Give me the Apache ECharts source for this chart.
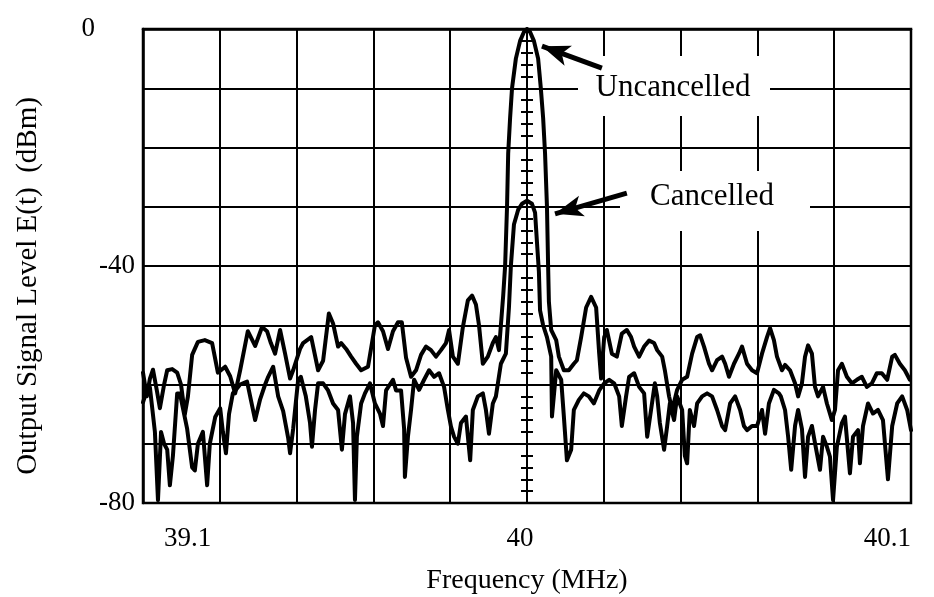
<!DOCTYPE html>
<html>
<head>
<meta charset="utf-8">
<script src="https://cdn.jsdelivr.net/npm/echarts@6/dist/echarts.min.js"></script>
<style>
  html, body { margin: 0; padding: 0; background: #fff; }
  #chart { width: 934px; height: 597px; }
</style>
</head>
<body>
<div id="chart"></div>
<script>
var chart = echarts.init(document.getElementById("chart"));

// x tick labels as printed on the original (one per grid division)
var xTickText = ['39.1', '', '', '', '', '40', '', '', '', '', '40.1'];

// upper trace (uncancelled), frequency in MHz, level in dBm
var freqA = [39.9000, 39.9010, 39.9018, 39.9026, 39.9036, 39.9044, 39.9055, 39.9063, 39.9076, 39.9089,
    39.9099, 39.9109, 39.9117, 39.9128, 39.9143, 39.9161, 39.9180, 39.9195, 39.9214, 39.9227,
    39.9240, 39.9253, 39.9273, 39.9292, 39.9310, 39.9323, 39.9333, 39.9344, 39.9357, 39.9370,
    39.9383, 39.9391, 39.9409, 39.9417, 39.9438, 39.9456, 39.9469, 39.9484, 39.9495, 39.9508,
    39.9516, 39.9529, 39.9542, 39.9555, 39.9568, 39.9586, 39.9604, 39.9612, 39.9625, 39.9638,
    39.9651, 39.9664, 39.9674, 39.9685, 39.9698, 39.9711, 39.9724, 39.9737, 39.9750, 39.9763,
    39.9776, 39.9789, 39.9797, 39.9807, 39.9820, 39.9833, 39.9846, 39.9857, 39.9867, 39.9875,
    39.9885, 39.9898, 39.9911, 39.9919, 39.9927, 39.9938, 39.9943, 39.9948, 39.9951, 39.9956,
    39.9961, 39.9971, 39.9982, 39.9992, 40.0000, 40.0008, 40.0018, 40.0029, 40.0036, 40.0042,
    40.0047, 40.0052, 40.0055, 40.0057, 40.0063, 40.0076, 40.0083, 40.0096, 40.0109, 40.0122,
    40.0130, 40.0141, 40.0154, 40.0167, 40.0180, 40.0188, 40.0193, 40.0201, 40.0208, 40.0221,
    40.0234, 40.0247, 40.0260, 40.0271, 40.0279, 40.0292, 40.0305, 40.0318, 40.0331, 40.0339,
    40.0352, 40.0359, 40.0370, 40.0378, 40.0391, 40.0404, 40.0417, 40.0430, 40.0443, 40.0451,
    40.0461, 40.0474, 40.0482, 40.0495, 40.0508, 40.0516, 40.0526, 40.0539, 40.0552, 40.0560,
    40.0573, 40.0586, 40.0599, 40.0612, 40.0625, 40.0633, 40.0643, 40.0651, 40.0664, 40.0672,
    40.0685, 40.0698, 40.0706, 40.0716, 40.0724, 40.0732, 40.0742, 40.0750, 40.0758, 40.0771,
    40.0781, 40.0794, 40.0802, 40.0810, 40.0820, 40.0833, 40.0846, 40.0859, 40.0872, 40.0885,
    40.0898, 40.0911, 40.0924, 40.0938, 40.0951, 40.0958, 40.0971, 40.0984, 40.0997];
var levelA = [-58, -62, -59, -57.5, -61, -64, -60, -57.6, -57.4, -58,
    -60, -65, -62, -55, -52.8, -52.5, -53, -58, -57, -58.6,
    -61.5, -57.6, -51, -53.5, -50.3, -51, -53, -54.8, -50.8, -54.8,
    -59, -57.6, -54, -53, -52, -57.6, -56, -48, -49.7, -53.6,
    -53, -54, -55.3, -56.5, -57.6, -57, -50, -49.5, -51, -54,
    -51, -49.5, -49.5, -55.5, -58.7, -57.6, -55, -53.6, -54.2, -55.3,
    -54.2, -53, -50.8, -55.3, -56.5, -50.3, -45.8, -45, -46.5, -50,
    -56.5, -55.3, -53, -52, -54.2, -45, -40, -30, -21, -15,
    -10, -5, -2, -0.5, 0, -0.5, -2, -5, -10, -15,
    -21, -30, -40, -46, -50.8, -52.5, -55.3, -57.6, -57.6, -56.5,
    -55.9, -52, -47, -45.2, -47, -54.8, -59, -52, -50.8, -54.8,
    -55.3, -51.4, -50.8, -52, -53.6, -55.3, -53.6, -52.6, -53, -54.2,
    -55.3, -57.6, -62, -64.3, -60.9, -59.2, -58.7, -54.8, -52, -51.7,
    -53.6, -56.5, -57.6, -55.9, -55.3, -56.5, -58.7, -56.5, -54.8, -53.6,
    -56.5, -57.6, -58.1, -54.8, -52, -50.5, -52.5, -55.3, -57.6, -56.7,
    -57.6, -59.8, -62, -59.8, -55.3, -53.4, -54.8, -60.4, -62, -60.4,
    -63.2, -66, -64.3, -57.6, -56.5, -58.7, -59.8, -59.2, -58.7, -60.4,
    -59.8, -58.1, -58.1, -59.2, -55.3, -55, -56.5, -57.6, -59.2];

// lower trace (cancelled)
var freqB = [39.9000, 39.9010, 39.9018, 39.9031, 39.9039, 39.9047, 39.9055, 39.9063, 39.9070, 39.9078,
    39.9089, 39.9096, 39.9115, 39.9128, 39.9135, 39.9143, 39.9156, 39.9167, 39.9174, 39.9188,
    39.9201, 39.9208, 39.9216, 39.9224, 39.9234, 39.9253, 39.9271, 39.9292, 39.9305, 39.9318,
    39.9326, 39.9339, 39.9352, 39.9365, 39.9378, 39.9383, 39.9391, 39.9404, 39.9411, 39.9424,
    39.9435, 39.9440, 39.9448, 39.9456, 39.9469, 39.9482, 39.9495, 39.9508, 39.9518, 39.9526,
    39.9539, 39.9547, 39.9552, 39.9557, 39.9568, 39.9578, 39.9591, 39.9604, 39.9617, 39.9625,
    39.9633, 39.9651, 39.9659, 39.9672, 39.9680, 39.9682, 39.9690, 39.9698, 39.9706, 39.9719,
    39.9732, 39.9745, 39.9758, 39.9771, 39.9784, 39.9794, 39.9802, 39.9810, 39.9820, 39.9828,
    39.9841, 39.9852, 39.9859, 39.9872, 39.9885, 39.9893, 39.9901, 39.9911, 39.9919, 39.9932,
    39.9945, 39.9953, 39.9958, 39.9966, 39.9977, 39.9987, 40.0000, 40.0013, 40.0021, 40.0026,
    40.0031, 40.0034, 40.0042, 40.0052, 40.0063, 40.0065, 40.0076, 40.0089, 40.0096, 40.0104,
    40.0115, 40.0122, 40.0135, 40.0148, 40.0161, 40.0174, 40.0188, 40.0201, 40.0214, 40.0227,
    40.0240, 40.0247, 40.0258, 40.0266, 40.0279, 40.0292, 40.0305, 40.0313, 40.0323, 40.0333,
    40.0339, 40.0346, 40.0357, 40.0365, 40.0372, 40.0383, 40.0391, 40.0404, 40.0411, 40.0417,
    40.0424, 40.0435, 40.0443, 40.0456, 40.0469, 40.0482, 40.0495, 40.0508, 40.0516, 40.0529,
    40.0542, 40.0555, 40.0565, 40.0573, 40.0586, 40.0599, 40.0612, 40.0620, 40.0630, 40.0643,
    40.0656, 40.0661, 40.0672, 40.0680, 40.0688, 40.0698, 40.0706, 40.0716, 40.0724, 40.0732,
    40.0742, 40.0750, 40.0763, 40.0771, 40.0781, 40.0789, 40.0797, 40.0807, 40.0820, 40.0828,
    40.0841, 40.0849, 40.0862, 40.0867, 40.0875, 40.0888, 40.0901, 40.0914, 40.0927, 40.0940,
    40.0951, 40.0964, 40.0977, 40.0990, 40.1000];
var levelB = [-63, -61, -60.5, -68, -79.5, -68, -70, -71, -77, -72,
    -61.5, -61.5, -67.5, -74, -74.5, -70, -68, -77, -70, -65.5,
    -64, -68, -71.6, -65, -61.5, -60, -59.5, -66, -62.5, -60,
    -58.7, -57, -62, -64.5, -69, -71.6, -67.5, -59.2, -58.7, -62,
    -66.5, -70.5, -64.3, -59.8, -59.8, -61, -63.2, -64.3, -71, -65,
    -62, -66.5, -79.5, -68.8, -63.2, -61.5, -59.8, -63.2, -64.9, -67,
    -61, -59.2, -61, -61, -67.5, -75.6, -68.8, -64.3, -59.2, -60.9,
    -59.2, -57.6, -58.7, -58.1, -60.4, -64.3, -67.1, -68.8, -70, -66.5,
    -65.4, -72.8, -64.3, -62, -61.5, -64.3, -68.3, -63.2, -62, -56.5,
    -54.8, -47, -40, -33, -30.5, -29.5, -29, -29.5, -31, -36,
    -41, -47.5, -50, -52, -55.3, -65.4, -57.6, -59.2, -65.4, -72.8,
    -71, -64.3, -62.6, -61.5, -62, -63.2, -61, -59.8, -59.2, -59.8,
    -62, -67, -62, -58.7, -58.1, -60.4, -61.5, -68.8, -64.3, -59.8,
    -62, -66.5, -71, -67, -63.2, -66, -62, -64.3, -72, -73.3,
    -64.3, -67, -63.2, -62, -61.5, -62, -64.3, -67, -67.7, -63.2,
    -62, -64.3, -67, -67.7, -67, -67, -64.3, -68.3, -63.2, -60.9,
    -61.5, -62, -64.3, -68.8, -74.4, -67, -64.3, -67.5, -75.6, -68.8,
    -67, -69.9, -74.4, -68.8, -70.5, -72.2, -79.5, -70.5, -66.5, -65.4,
    -75, -68.8, -67.7, -73.3, -67, -63.2, -64.9, -64.3, -66, -76,
    -67, -63.2, -62, -64.3, -67.7];

function pairs(xs, ys) {
    var out = [];
    for (var i = 0; i < xs.length; i++) {
        out.push([xs[i], ys[i]]);
    }
    return out;
}

var serif = '"Liberation Serif", "DejaVu Serif", serif';

// the marker axis through 40 MHz with small cross ticks every 2 dB
function centerAxis(inside) {
    return {
        type: 'value',
        min: -80,
        max: 0,
        interval: 2,
        position: 'left',
        offset: -384,
        axisLine: { show: true, lineStyle: { color: '#000', width: 2 } },
        axisTick: { show: true, inside: inside, length: 6, lineStyle: { color: '#000', width: 2 } },
        axisLabel: { show: false },
        splitLine: { show: false }
    };
}

var option = {
    animation: false,
    backgroundColor: '#fff',
    grid: {
        left: 143,
        right: 23,
        top: 29,
        bottom: 94,
        outerBoundsMode: 'none',
        show: true,
        borderColor: '#000',
        borderWidth: 2.5
    },
    xAxis: {
        type: 'value',
        min: 39.9,
        max: 40.1,
        interval: 0.02,
        name: 'Frequency (MHz)',
        nameLocation: 'middle',
        nameGap: 64,
        nameTextStyle: { fontFamily: serif, fontSize: 28, color: '#000' },
        axisLine: { show: true, lineStyle: { color: '#000', width: 2.5 } },
        axisTick: { show: false },
        axisLabel: {
            color: '#000',
            fontFamily: serif,
            fontSize: 27,
            margin: 22,
            alignMinLabel: 'left',
            alignMaxLabel: 'right',
            formatter: function (v) {
                var t = xTickText[Math.round((v - 39.9) / 0.02)];
                if (t === '39.1') return '{l|' + t + '}';
                if (t === '40') return '{m|' + t + '}';
                return t;
            },
            rich: {
                l: { fontFamily: serif, fontSize: 27, color: '#000', padding: [0, 0, 0, 21] },
                m: { fontFamily: serif, fontSize: 27, color: '#000', padding: [0, 14, 0, 0] }
            }
        },
        splitLine: { show: true, lineStyle: { color: '#000', width: 2 } }
    },
    yAxis: [{
        type: 'value',
        min: -80,
        max: 0,
        interval: 10,
        name: 'Output Signal Level E(t)  (dBm)',
        nameLocation: 'middle',
        nameGap: 100,
        nameTextStyle: { fontFamily: serif, fontSize: 29, color: '#000', padding: [0, 40, 0, 0] },
        axisLine: { show: true, lineStyle: { color: '#000', width: 2.5 } },
        axisTick: { show: false },
        axisLabel: {
            color: '#000',
            fontFamily: serif,
            fontSize: 27,
            margin: 8,
            formatter: function (v) {
                if (v === 0) return '{z|0}';
                if (v === -40 || v === -80) return String(v);
                return '';
            },
            rich: {
                z: { fontFamily: serif, fontSize: 27, color: '#000', padding: [0, 40, 0, 0] }
            }
        },
        splitLine: { show: true, lineStyle: { color: '#000', width: 2 } }
    }, centerAxis(false), centerAxis(true)],
    graphic: [
        { type: 'rect', z: 1, shape: { x: 578, y: 56, width: 192, height: 60 }, style: { fill: '#fff' } },
        { type: 'rect', z: 1, shape: { x: 620, y: 171, width: 190, height: 60 }, style: { fill: '#fff' } },
        { type: 'text', z: 1, x: 673, y: 88, style: { text: 'Uncancelled', font: '31px ' + serif, fill: '#000', align: 'center', verticalAlign: 'middle' } },
        { type: 'text', z: 1, x: 712, y: 197, style: { text: 'Cancelled', font: '31px ' + serif, fill: '#000', align: 'center', verticalAlign: 'middle' } }
    ],
    series: [{
        name: 'Uncancelled',
        type: 'line',
        data: pairs(freqA, levelA),
        showSymbol: false,
        lineStyle: { color: '#000', width: 4, join: 'round', cap: 'round' },
        markLine: {
            silent: true,
            symbol: ['none', 'arrow'],
            symbolSize: [16, 28],
            label: { show: false },
            lineStyle: { color: '#000', width: 5, type: 'solid' },
            data: [
                [{ coord: [40.0195, -6.6] }, { coord: [40.0039, -2.9] }],
                [{ coord: [40.0260, -27.7] }, { coord: [40.0073, -31.2] }]
            ]
        }
    }, {
        name: 'Cancelled',
        type: 'line',
        data: pairs(freqB, levelB),
        showSymbol: false,
        lineStyle: { color: '#000', width: 4, join: 'round', cap: 'round' }
    }]
};

chart.setOption(option);
window.addEventListener('resize', function () {
    chart.resize();
});
</script>
</body>
</html>
